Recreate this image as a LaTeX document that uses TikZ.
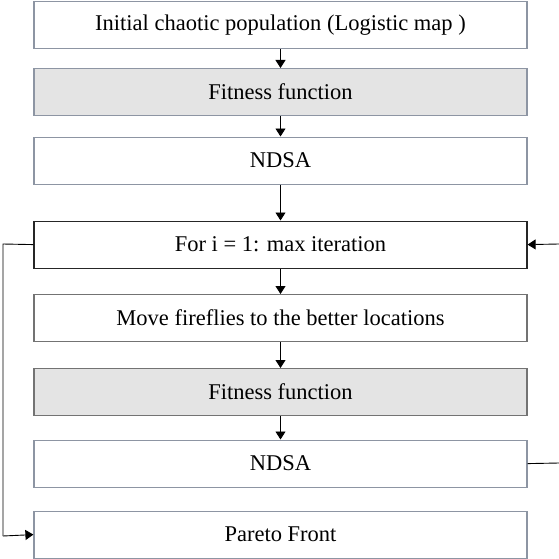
\documentclass[tikz,border=0pt]{standalone}
\usepackage{fontspec}
\setmainfont{Liberation Serif}
\usetikzlibrary{arrows.meta}
\definecolor{bluegray}{HTML}{8D95A3}
\definecolor{boxfill}{HTML}{E4E4E4}
\tikzset{
  flowbox/.style={draw=bluegray, line width=1.2pt, minimum width=493pt, minimum height=47pt, inner sep=0pt, font=\fontsize{22.5}{26}\selectfont, anchor=north},
  darkbox/.style={flowbox, draw=black!85},
  midbox/.style={flowbox, draw=black!55},
  grayfill/.style={fill=boxfill},
  conn/.style={line width=0.9pt, -{Triangle[length=8pt,width=10pt]}},
  plain/.style={line width=0.9pt}
}
\begin{document}
\begin{tikzpicture}[x=1pt,y=-1pt]
\useasboundingbox (0,0) rectangle (559,559);
\node[flowbox] (b1) at (280.5,1) {Initial chaotic population (Logistic map )};
\node[flowbox, grayfill] (b2) at (280.5,68) {Fitness function};
\node[flowbox] (b3) at (280.5,136.5) {NDSA};
\node[darkbox] (b4) at (280.5,220.5) {For i = 1: max iteration};
\node[midbox] (b5) at (280.5,294) {Move fireflies to the better locations};
\node[midbox, grayfill] (b6) at (280.5,368) {Fitness function};
\node[flowbox] (b7) at (280.5,439.5) {NDSA};
\node[flowbox] (b8) at (280.5,510.5) {Pareto Front};
\coordinate (lt) at (3,244);
\coordinate (lb) at (3,536);
\coordinate (rin) at (559,244);
\coordinate (rout) at (559,463);
\draw[conn] (b1.south) -- (b2.north);
\draw[conn] (b2.south) -- (b3.north);
\draw[conn] (b3.south) -- (b4.north);
\draw[conn] (b4.south) -- (b5.north);
\draw[conn] (b5.south) -- (b6.north);
\draw[conn] (b6.south) -- (b7.north);
\draw[plain] (b4.west) -- (lt) -- (lb);
\draw[conn] (lb) -- (b8.west);
\draw[conn] (rin) -- (b4.east);
\draw[plain] (b7.east) -- (rout);
\end{tikzpicture}
\end{document}
